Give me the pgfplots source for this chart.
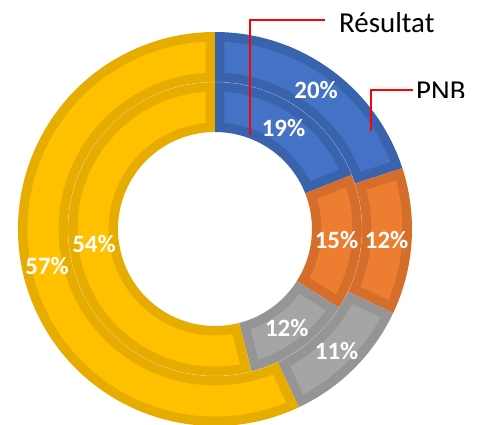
\documentclass[border=0pt]{standalone}
\usepackage{pgfplots}
\pgfplotsset{compat=1.18}
\usepackage{pgfplotstable}
\usepackage{fontspec}
\setmainfont{Carlito}

\definecolor{fc0}{RGB}{68,114,196}
\definecolor{bc0}{RGB}{58,99,174}
\definecolor{fc1}{RGB}{237,125,49}
\definecolor{bc1}{RGB}{213,109,43}
\definecolor{fc2}{RGB}{165,165,165}
\definecolor{bc2}{RGB}{149,149,149}
\definecolor{fc3}{RGB}{255,192,0}
\definecolor{bc3}{RGB}{230,172,0}

% PNB = outer ring, Resultat = inner ring (percent)
\pgfplotstableread{
cat    pnb res
bleu   20  19
orange 12  15
gris   11  12
jaune  57  54
}\donnees

\tikzset{lbl/.style={text=white, font=\bfseries\fontsize{25}{30}\selectfont, inner sep=0pt}}

\def\bord{9.5}
\newcommand\seg[6]{%
  \pgfmathsetmacro\aS{90-3.6*#3}%
  \pgfmathsetmacro\aE{90-3.6*(#3+#4)}%
  \pgfmathsetmacro\xa{#2*cos(\aS)}\pgfmathsetmacro\ya{#2*sin(\aS)}%
  \pgfmathsetmacro\xb{#1*cos(\aE)}\pgfmathsetmacro\yb{#1*sin(\aE)}%
  \pgfmathsetmacro\rA{#1+\bord}\pgfmathsetmacro\rB{#2-\bord}%
  \pgfmathsetmacro\dA{asin(\bord/\rA)}\pgfmathsetmacro\dB{asin(\bord/\rB)}%
  \pgfmathsetmacro\sB{\aS-\dB}\pgfmathsetmacro\eB{\aE+\dB}%
  \pgfmathsetmacro\sA{\aS-\dA}\pgfmathsetmacro\eA{\aE+\dA}%
  \pgfmathsetmacro\xc{\rB*cos(\sB)}\pgfmathsetmacro\yc{\rB*sin(\sB)}%
  \pgfmathsetmacro\xd{\rA*cos(\eA)}\pgfmathsetmacro\yd{\rA*sin(\eA)}%
  \edef\cmd{%
    \noexpand\fill[#6] (axis cs:\xa,\ya) arc[start angle=\aS, end angle=\aE, radius=#2bp] -- (axis cs:\xb,\yb) arc[start angle=\aE, end angle=\aS, radius=#1bp] -- cycle;
    \noexpand\fill[#5] (axis cs:\xc,\yc) arc[start angle=\sB, end angle=\eB, radius=\rB bp] -- (axis cs:\xd,\yd) arc[start angle=\eA, end angle=\sA, radius=\rA bp] -- cycle;
  }\cmd}
\newcommand\lab[4]{% r1 r2 cumstart value
  \pgfmathsetmacro\aM{90-3.6*(#3+#4/2)}%
  \pgfmathsetmacro\rM{(#1+#2)/2}%
  \pgfmathsetmacro\xm{\rM*cos(\aM)}\pgfmathsetmacro\ym{\rM*sin(\aM)}%
  \edef\cmd{\noexpand\node[lbl] at (axis cs:\xm,\ym) {#4\noexpand\%};}\cmd}

\begin{document}
\begin{tikzpicture}
\useasboundingbox (0,0) rectangle (487bp,425bp);
\clip (0,0) rectangle (487bp,425bp);
\begin{axis}[at={(0,0)}, anchor=south west, x=1bp, y=1bp,
  xmin=-215, xmax=272, ymin=-196, ymax=229, hide axis, clip=false]
\def\cumP{0}\def\cumR{0}
\pgfplotsforeachungrouped \i in {0,1,2,3}{%
  \pgfplotstablegetelem{\i}{pnb}\of\donnees \edef\vP{\pgfplotsretval}%
  \pgfplotstablegetelem{\i}{res}\of\donnees \edef\vR{\pgfplotsretval}%
  \seg{147}{197}{\cumP}{\vP}{fc\i}{bc\i}%
  \seg{97}{147}{\cumR}{\vR}{fc\i}{bc\i}%
  \pgfmathsetmacro\cumP{\cumP+\vP}%
  \pgfmathsetmacro\cumR{\cumR+\vR}%
}
\draw[white, opacity=0.25, line width=0.5bp] (axis cs:0,0) circle[radius=147bp];
\def\cumP{0}\def\cumR{0}
\pgfplotsforeachungrouped \i in {0,1,2,3}{%
  \pgfplotstablegetelem{\i}{pnb}\of\donnees \edef\vP{\pgfplotsretval}%
  \pgfplotstablegetelem{\i}{res}\of\donnees \edef\vR{\pgfplotsretval}%
  \lab{147}{197}{\cumP}{\vP}%
  \lab{97}{147}{\cumR}{\vR}%
  \pgfmathsetmacro\cumP{\cumP+\vP}%
  \pgfmathsetmacro\cumR{\cumR+\vR}%
}
\end{axis}
% callouts
\draw[red, line width=2bp] (250bp,290bp) -- (250bp,405bp) -- (325bp,405bp);
\node[anchor=base west, inner sep=0pt, font=\fontsize{29}{34}\selectfont] at (339bp,392bp) {Résultat};
\draw[red, line width=2bp] (371bp,294bp) -- (371bp,335bp) -- (413bp,335bp);
\begin{scope}
\clip (400bp,327bp) rectangle (487bp,425bp);
\node[anchor=base west, inner sep=0pt, font=\fontsize{29}{34}\selectfont] at (416bp,324bp) {PNB};
\end{scope}
\end{tikzpicture}
\end{document}
